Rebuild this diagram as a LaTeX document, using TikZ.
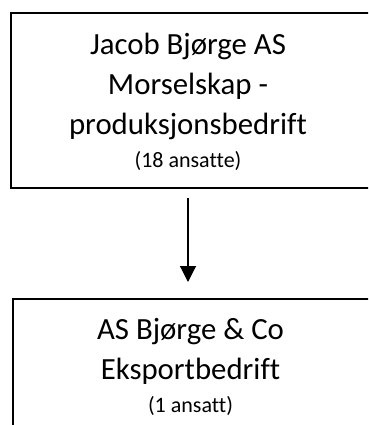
\documentclass[tikz,border=0pt]{standalone}
\usepackage{fontspec}
\setmainfont{Carlito}[Ligatures=NoCommon]
\usepackage{tikz}
\usetikzlibrary{arrows.meta}

\newcommand{\antall}[1]{{\fontsize{22}{26}\selectfont #1}}

\begin{document}
\begin{tikzpicture}[x=1pt,y=1pt,
    boks/.style={draw,line width=2pt,minimum width=370pt,inner sep=0pt},
    navn/.style={align=center,inner sep=0pt,font=\fontsize{30.8}{40}\selectfont}]
      \useasboundingbox (0,0) rectangle (368,-425);
      \clip (0,0) rectangle (368,-425);
      \node [boks,minimum height=175pt,anchor=north west] (1) at (10,-12) {};
      \node [boks,minimum height=150pt,anchor=north west] (2) at ([xshift=2pt,yshift=-109pt]1.south west) {};
      %% the texts sit a bit left of the box centres
      \node [navn,anchor=north] (3) at (188,-32.5) {Jacob Bjørge AS\\Morselskap -\\produksjonsbedrift\\[-7pt]\antall{(18 ansatte)}};
      \node [navn,anchor=north] (4) at (190.5,-318) {AS Bjørge \& Co\\Eksportbedrift\\[-7pt]\antall{(1 ansatt)}};

      \draw[-{Triangle[width=16pt,length=16pt]},line width=1.2pt,shorten <=9pt,shorten >=16pt] (1.south -| 3.south) -- (2.north -| 3.south);
    \end{tikzpicture}
\end{document}
